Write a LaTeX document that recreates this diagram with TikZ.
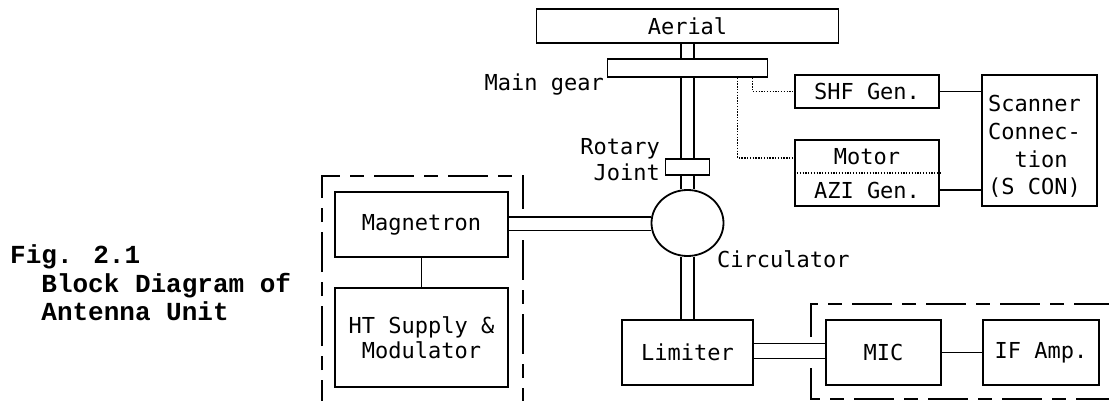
\documentclass[tikz,border=0pt]{standalone}
\usepackage{fontspec}
\usetikzlibrary{positioning,calc,shapes.geometric}
\newfontfamily\diagfont{DejaVu Sans Mono}
\newfontfamily\capfont{Liberation Mono}

\begin{document}
\begin{tikzpicture}[x=1pt,y=-1pt,
      blk/.style={draw,line width=1.8pt,inner sep=0pt,align=center,
                  font=\diagfont\fontsize{22}{25}\selectfont},
      lbl/.style={inner sep=0pt,font=\diagfont\fontsize{22}{26}\selectfont},
      wg/.style={line width=1.6pt},
      cable/.style={line width=1.4pt},
      dotl/.style={line width=1.3pt,dash pattern=on 1.3pt off 1.5pt},
      dbox/.style={line width=1.5pt,dash pattern=on 40pt off 10pt on 14pt off 10pt}]
    \useasboundingbox (0,0) rectangle (1109,401);
    % antenna column
    \node[blk,minimum width=302pt,minimum height=34pt] (aerial) at (687.5,26) {Aerial};
    \node[blk,minimum width=160pt,minimum height=18pt] (gear) at (687.5,68) {};
    \node[lbl,anchor=east] (gearlbl) at (604,85) {Main gear};
    \node[blk,minimum width=44pt,minimum height=16pt] (rot) at (687.5,167) {};
    \node[lbl,anchor=east,align=right] (rotlbl) at (660,160) {Rotary\\Joint};
    \node[draw,ellipse,line width=1.8pt,inner sep=0pt,minimum width=72pt,minimum height=66pt] (circ) at (687.5,223) {};
    \node[lbl,anchor=west] (circlbl) at (717,259) {Circulator};
    \node[blk,minimum width=131pt,minimum height=65pt] (lim) at (687.5,352.5) {Limiter};
    % receiver
    \node[blk,minimum width=115pt,minimum height=65pt] (mic) at (883.5,352.5) {MIC};
    \node[blk,minimum width=116pt,minimum height=65pt] (ifa) at (1041,352.5) {IF Amp.};
    % transmitter
    \node[blk,minimum width=173pt,minimum height=65pt] (mag) at (421.5,224.5) {Magnetron};
    \node[blk,minimum width=173pt,minimum height=99pt] (ht) at (421.5,337.5) {HT Supply \&\\Modulator};
    % scanner side
    \node[blk,minimum width=144pt,minimum height=33pt] (shf) at (867,91.5) {SHF Gen.};
    \node[blk,minimum width=144pt,minimum height=66pt] (motazi) at (867,173) {};
    \node[lbl] (motor) at (867,157) {Motor};
    \node[lbl] (azi) at (867,190) {AZI Gen.};
    \node[blk,minimum width=115pt,minimum height=131pt] (scan) at (1039.5,140.5) {};
    \node[lbl,anchor=west,align=left,font=\diagfont\fontsize{22}{27.7}\selectfont] (scantxt) at (988,146.5)
      {Scanner\\Connec-\\\phantom{Sc}tion\\(S CON)};
    \node[anchor=west,align=left,inner sep=0pt,font=\capfont\bfseries\fontsize{26}{28.5}\selectfont] (cap) at (10,283)
      {Fig. 2.1\\\phantom{xx}Block Diagram of\\\phantom{xx}Antenna Unit};

    % waveguides
    \foreach \s in {-6.5,6.5} {
      \draw[wg] ([xshift=\s pt]aerial.south) -- ([xshift=\s pt]gear.north);
      \draw[wg] ([xshift=\s pt]gear.south) -- ([xshift=\s pt]rot.north);
      \draw[wg] ([xshift=\s pt]rot.south) -- ([xshift=\s pt]circ.north);
      \draw[wg] ([xshift=\s pt]circ.south) -- ([xshift=\s pt]lim.north);
    }
    \foreach \s in {7.5,-6} \draw[wg] ([yshift=\s pt]mag.east) -- ([yshift=\s pt]mag.east -| circ.west);
    \foreach \s in {9,-6} \draw[wg] ([yshift=\s pt]lim.east) -- ([yshift=\s pt]mic.west);

    % signal lines
    \draw[cable] (mag.south) -- (ht.north);
    \draw[cable] (mic.east) -- (ifa.west);
    \draw[cable] (shf.east) -- (shf.east -| scan.west);
    \draw[cable] (azi.east -| motazi.east) -- (azi.east -| scan.west);
    \draw[dotl] ([xshift=50pt]gear.south) |- ([yshift=15pt]motazi.west);
    \draw[dotl] ([xshift=65pt]gear.south) |- (shf.west);
    \draw[dotl] (motazi.west) -- (motazi.east);

    % unit outlines
    \begin{scope}
      \clip (0,0) rectangle (1109,401);
      \draw[dbox] (322,420) -- (322,176) -- (523,176) -- (523,209);
      \draw[dbox] (523,240) -- (523,420);
      \draw[dbox] (811,337) -- (811,304) -- (1130,304);
      \draw[dbox] (811,368) -- (811,399) -- (1130,399);
    \end{scope}
  \end{tikzpicture}
\end{document}
